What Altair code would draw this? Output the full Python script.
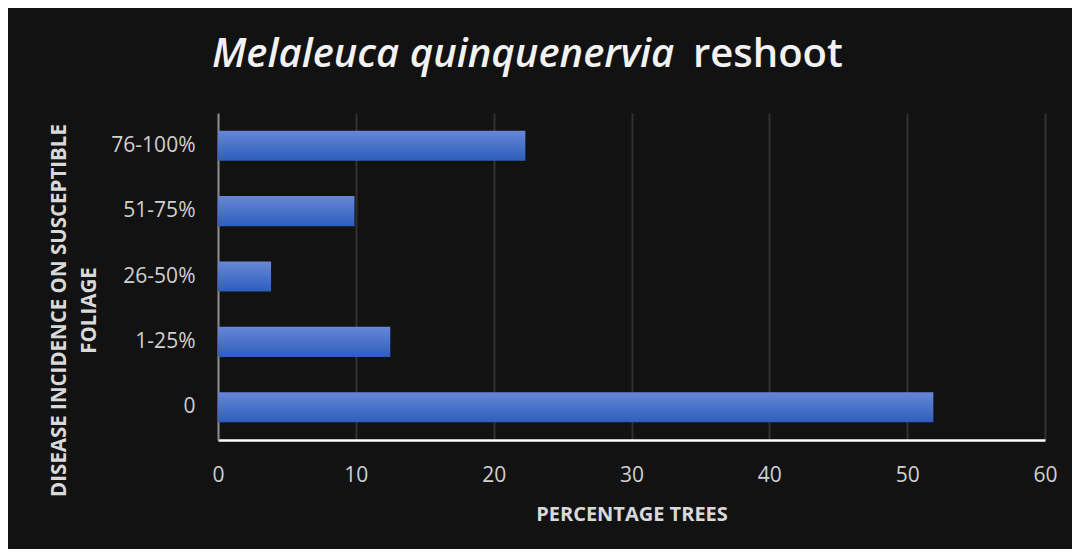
import altair as alt
import pandas as pd

categories = ["76-100%", "51-75%", "26-50%", "1-25%", "0"]
values = [22.3, 9.9, 3.85, 12.5, 51.9]
x_ticks = [0, 10, 20, 30, 40, 50, 60]
title_italic = "Melaleuca quinquenervia"
title_plain = "reshoot"

df = pd.DataFrame({"category": categories, "value": values})

FONT = "Open Sans"
BG = "#121212"

bar_gradient = alt.LinearGradient(
    gradient="linear",
    stops=[
        alt.GradientStop(color="#6787d6", offset=0),
        alt.GradientStop(color="#2d5ebd", offset=1),
    ],
    x1=0, x2=0, y1=0, y2=1,
)

bars = alt.Chart(df).mark_bar(color=bar_gradient).encode(
    x=alt.X(
        "value:Q",
        scale=alt.Scale(domain=[0, 60], nice=False, zero=True),
        axis=alt.Axis(
            values=x_ticks,
            title="PERCENTAGE TREES",
            titleFont=FONT,
            titleFontSize=20,
            titleFontWeight="bold",
            titleColor="#d9d9d9",
            titleBaseline="alphabetic",
            titleY=80,
            labelFont=FONT,
            labelFontSize=21,
            labelColor="#d0d0d0",
            labelPadding=24,
            labelFlush=False,
            ticks=False,
            tickSize=0,
            domainColor="#ffffff",
            domainWidth=2.5,
            grid=True,
            gridColor="#303030",
            gridWidth=2,
        ),
    ),
    y=alt.Y(
        "category:N",
        sort=categories,
        scale=alt.Scale(paddingInner=0.54, paddingOuter=0.27),
        axis=alt.Axis(
            title=["DISEASE  INCIDENCE ON SUSCEPTIBLE", "FOLIAGE"],
            titleFont=FONT,
            titleFontSize=20.5,
            titleFontWeight="bold",
            titleColor="#d9d9d9",
            titleAngle=270,
            titleAlign="center",
            titleBaseline="alphabetic",
            titleLineHeight=30,
            titleX=-153,
            titleY=197,
            labelFont=FONT,
            labelFontSize=21,
            labelColor="#d0d0d0",
            labelPadding=23,
            ticks=False,
            tickSize=0,
            domainColor="#8a8a8a",
            domainWidth=2,
            grid=False,
        ),
    ),
)

title_a = alt.Chart(pd.DataFrame({"t": [title_italic]})).mark_text(
    font=FONT,
    fontSize=40,
    fontWeight=600,
    fontStyle="italic",
    color="#f2f2f2",
    align="left",
    baseline="alphabetic",
).encode(
    text="t:N",
    x=alt.value(-6),
    y=alt.value(-46),
)

title_b = alt.Chart(pd.DataFrame({"t": [title_plain]})).mark_text(
    font=FONT,
    fontSize=40,
    fontWeight=600,
    color="#f2f2f2",
    align="left",
    baseline="alphabetic",
).encode(
    text="t:N",
    x=alt.value(475),
    y=alt.value(-46),
)

chart = alt.layer(bars, title_a, title_b).properties(
    width=827,
    height=327,
    background=BG,
    padding={"left": 210, "top": 105, "right": 27, "bottom": 109},
    autosize=alt.AutoSizeParams(type="none"),
).configure_view(stroke=None)

chart.save("out.html", embed_options={"renderer": "svg", "actions": False})
